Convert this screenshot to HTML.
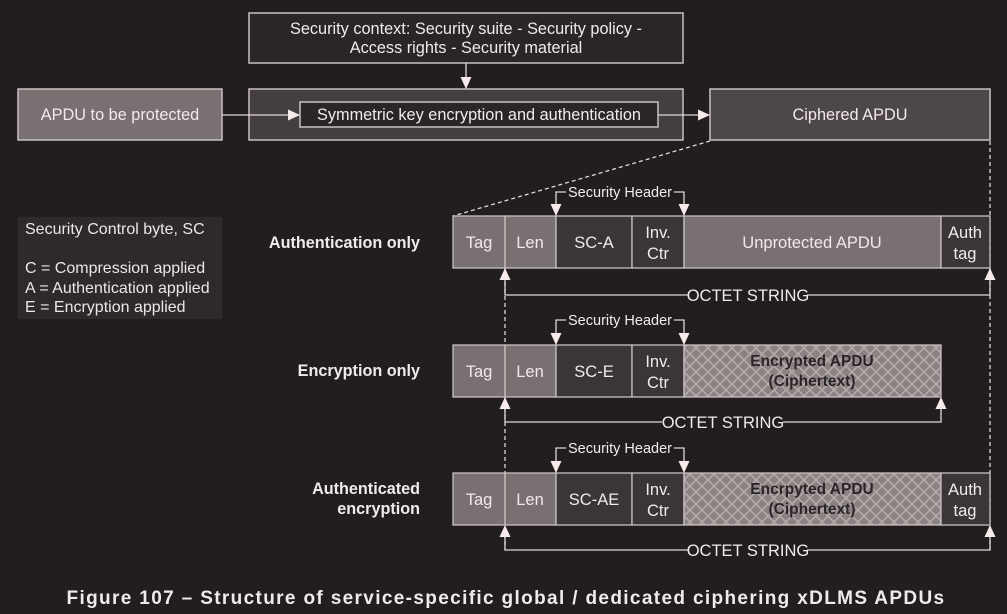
<!DOCTYPE html>
<html><head><meta charset="utf-8"><style>
html,body{margin:0;padding:0;background:#221e1f;}
svg{display:block;font-family:"Liberation Sans",Arial,sans-serif;}
</style></head><body>
<svg width="1007" height="614" viewBox="0 0 1007 614" xmlns="http://www.w3.org/2000/svg">
<defs>
<pattern id="hatch" width="12" height="12" patternUnits="userSpaceOnUse">
<rect width="12" height="12" fill="#8c8283"/>
<path d="M0 0L12 12M12 0L0 12" stroke="#b3aaaa" stroke-width="1.6"/>
</pattern>
<marker id="ar" markerWidth="12" markerHeight="12" refX="11" refY="6" orient="auto" markerUnits="userSpaceOnUse">
<path d="M0 0.5L12 6L0 11.5Z" fill="#f6eaea"/>
</marker>
</defs>
<rect width="1007" height="614" fill="#221e1f"/>
<g stroke="#c9c0c0" stroke-width="1.5">
<rect x="249" y="13" width="434" height="50" fill="#2a2526"/>
<rect x="18" y="89" width="204" height="51" fill="#787071"/>
<rect x="249" y="89" width="434" height="51" fill="#443e3f"/>
<rect x="300" y="102" width="358" height="25" fill="#2a2526"/>
<rect x="710" y="89" width="280" height="51" fill="#4e4748"/>
</g>
<g fill="#f2eaea" font-size="16.3" text-anchor="middle">
<text x="466" y="34">Security context: Security suite - Security policy -</text>
<text x="466" y="53">Access rights - Security material</text>
<text x="120" y="120">APDU to be protected</text>
<text x="479" y="120">Symmetric key encryption and authentication</text>
<text x="850" y="120">Ciphered APDU</text>
</g>
<g stroke="#e0d6d6" stroke-width="1.3" fill="none">
<line x1="222" y1="115" x2="299" y2="115" marker-end="url(#ar)"/>
<line x1="658" y1="115" x2="709" y2="115" marker-end="url(#ar)"/>
<line x1="466" y1="63" x2="466" y2="88" marker-end="url(#ar)"/>
<line x1="710" y1="141" x2="453" y2="216" stroke-dasharray="4,3"/>
<line x1="990" y1="141" x2="990" y2="550" stroke-dasharray="4,3"/>
<line x1="505" y1="268" x2="505" y2="550" stroke-dasharray="4,3"/>
</g>
<rect x="18" y="217" width="204" height="102" fill="#2e2a2b"/>
<g fill="#eee6e6" font-size="16">
<text x="25" y="234">Security Control byte, SC</text>
<text x="25" y="273">C = Compression applied</text>
<text x="25" y="293">A = Authentication applied</text>
<text x="25" y="312">E = Encryption applied</text>
</g>
<g fill="#f2eaea" font-size="16.2" font-weight="bold" text-anchor="end">
<text x="420" y="248">Authentication only</text>
<text x="420" y="376">Encryption only</text>
<text x="420" y="494">Authenticated</text>
<text x="420" y="514">encryption</text>
</g>
<g font-size="16.5" text-anchor="middle">
<g stroke="#c9c0c0" stroke-width="1.3">
<rect x="453" y="216" width="52" height="52" fill="#787071"/>
<rect x="505" y="216" width="51" height="52" fill="#787071"/>
<rect x="556" y="216" width="76" height="52" fill="#3a3536"/>
<rect x="632" y="216" width="52" height="52" fill="#3a3536"/>
<rect x="684" y="216" width="257" height="52" fill="#787071"/>
<rect x="941" y="216" width="49" height="52" fill="#3a3536"/>
<rect x="453" y="345" width="52" height="52" fill="#787071"/>
<rect x="505" y="345" width="51" height="52" fill="#787071"/>
<rect x="556" y="345" width="76" height="52" fill="#3a3536"/>
<rect x="632" y="345" width="52" height="52" fill="#3a3536"/>
<rect x="684" y="345" width="257" height="52" fill="url(#hatch)"/>
<rect x="453" y="473" width="52" height="52" fill="#787071"/>
<rect x="505" y="473" width="51" height="52" fill="#787071"/>
<rect x="556" y="473" width="76" height="52" fill="#3a3536"/>
<rect x="632" y="473" width="52" height="52" fill="#3a3536"/>
<rect x="684" y="473" width="257" height="52" fill="url(#hatch)"/>
<rect x="941" y="473" width="49" height="52" fill="#3a3536"/>
</g>
<g fill="#f2eaea">
<text x="479" y="248">Tag</text><text x="530" y="248">Len</text><text x="594" y="248">SC-A</text>
<text x="658" y="238">Inv.</text><text x="658" y="259">Ctr</text>
<text x="812" y="248">Unprotected APDU</text>
<text x="965" y="238">Auth</text><text x="965" y="259">tag</text>
<text x="479" y="377">Tag</text><text x="530" y="377">Len</text><text x="594" y="377">SC-E</text>
<text x="658" y="367">Inv.</text><text x="658" y="388">Ctr</text>
<text x="479" y="505">Tag</text><text x="530" y="505">Len</text><text x="594" y="505">SC-AE</text>
<text x="658" y="495">Inv.</text><text x="658" y="516">Ctr</text>
<text x="965" y="495">Auth</text><text x="965" y="516">tag</text>
</g>
<g fill="#2a2526" font-weight="bold" font-size="15.5">
<text x="812" y="366">Encrypted APDU</text><text x="812" y="386">(Ciphertext)</text>
<text x="812" y="494">Encrpyted APDU</text><text x="812" y="514">(Ciphertext)</text>
</g>
</g>
<g stroke="#e0d6d6" stroke-width="1.3" fill="none">
<path d="M566 192H556V215" marker-end="url(#ar)"/><path d="M674 192H684V215" marker-end="url(#ar)"/>
<path d="M566 320H556V344" marker-end="url(#ar)"/><path d="M674 320H684V344" marker-end="url(#ar)"/>
<path d="M566 448H556V472" marker-end="url(#ar)"/><path d="M674 448H684V472" marker-end="url(#ar)"/>
<path d="M689 295H505V269" marker-end="url(#ar)"/><path d="M807 295H990V269" marker-end="url(#ar)"/>
<path d="M662 422H505V398" marker-end="url(#ar)"/><path d="M783 422H941V398" marker-end="url(#ar)"/>
<path d="M689 550H505V526" marker-end="url(#ar)"/><path d="M807 550H990V526" marker-end="url(#ar)"/>
</g>
<g fill="#f2eaea" font-size="14.5" text-anchor="middle">
<text x="620" y="197">Security Header</text>
<text x="620" y="325">Security Header</text>
<text x="620" y="453">Security Header</text>
</g>
<g fill="#f2eaea" font-size="16.5" text-anchor="middle">
<text x="748" y="301">OCTET STRING</text>
<text x="723" y="428">OCTET STRING</text>
<text x="748" y="556">OCTET STRING</text>
</g>
<text x="506" y="604" fill="#f2eaea" font-size="19" font-weight="bold" text-anchor="middle" letter-spacing="1.35">Figure 107 – Structure of service-specific global / dedicated ciphering xDLMS APDUs</text>
</svg>
</body></html>
